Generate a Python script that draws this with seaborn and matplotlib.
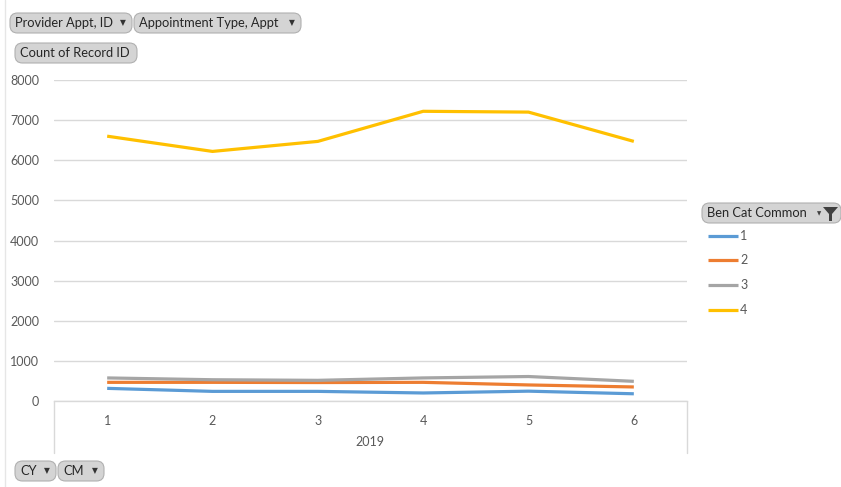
import matplotlib
matplotlib.use("Agg")
import matplotlib.pyplot as plt
from matplotlib.patches import FancyBboxPatch, Polygon
from matplotlib.lines import Line2D
import seaborn as sns
import pandas as pd

# Monthly record counts (2019) per benefit category
months = [1, 2, 3, 4, 5, 6]
cat_1 = [315, 240, 240, 200, 245, 180]
cat_2 = [465, 465, 460, 465, 400, 350]
cat_3 = [575, 530, 515, 575, 610, 490]
cat_4 = [6600, 6220, 6470, 7220, 7200, 6470]
categories = ["1", "2", "3", "4"]
y_ticks = [0, 1000, 2000, 3000, 4000, 5000, 6000, 7000, 8000]
year_label = "2019"

colors = {"1": "#5B9BD5", "2": "#ED7D31", "3": "#A5A5A5", "4": "#FFC000"}

df = pd.DataFrame({
    "CM": months * 4,
    "Count": cat_1 + cat_2 + cat_3 + cat_4,
    "Ben Cat Common": sum([[c] * len(months) for c in categories], []),
})

sns.set_theme(style="white")
plt.rcParams["font.family"] = ["Lato", "DejaVu Sans"]

W, H = 841, 487
fig = plt.figure(figsize=(W / 100, H / 100), dpi=100)


def fx(x):
    return x / W


def fy(y):
    return 1 - y / H


ax_l, ax_r, ax_t, ax_b = 54.5, 686.5, 80, 401
ax = fig.add_axes([fx(ax_l), fy(ax_b), fx(ax_r - ax_l), (ax_b - ax_t) / H])

sns.lineplot(data=df, x="CM", y="Count", hue="Ben Cat Common",
             palette=colors, linewidth=2.3, ax=ax, legend=False,
             sort=False)
for ln in ax.lines:
    ln.set_solid_capstyle("butt")

ax.set_xlim(0.5, 6.5)
ax.set_ylim(0, 8000)
ax.set_yticks(y_ticks)
ax.set_xticks(months)
ax.set_xticklabels([str(m) for m in months])
ax.set_xlabel("")
ax.set_ylabel("")
ax.grid(axis="y", color="#d9d9d9", linewidth=1)
ax.grid(axis="x", visible=False)
ax.set_axisbelow(True)
for side in ["top", "right", "left"]:
    ax.spines[side].set_visible(False)
ax.spines["bottom"].set_color("#d9d9d9")
ax.spines["bottom"].set_linewidth(1)
ax.tick_params(axis="both", length=0, labelsize=9, labelcolor="#595959")
ax.tick_params(axis="y", pad=11)
ax.tick_params(axis="x", pad=10)

# Multi-level category frame below the axis
drop = 52 / (ax_b - ax_t)
for xa in (0, 1):
    ax.add_line(Line2D([xa, xa], [0, -drop], transform=ax.transAxes,
                       color="#d9d9d9", linewidth=1, clip_on=False))
fig.text(fx(370), fy(442), year_label, ha="center", va="center",
         fontsize=9, color="#595959")

# Faint sheet edge on the left
fig.add_artist(Line2D([fx(5), fx(5)], [0, 1], color="#e6e6e6", linewidth=1))


def button(x0, y0, x1, y1, text, arrow=False):
    patch = FancyBboxPatch((fx(x0), fy(y1)), fx(x1 - x0), (y1 - y0) / H,
                           boxstyle="round,pad=0,rounding_size=0.009",
                           mutation_aspect=W / H,
                           transform=fig.transFigure, facecolor="#d4d4d4",
                           edgecolor="#b0b0b0", linewidth=0.8)
    fig.add_artist(patch)
    t = fig.text(fx(x0 + 5), fy((y0 + y1) / 2), text, ha="left", va="center",
                 fontsize=9.3, color="#262626")
    if arrow:
        fig.text(fx(x1 - 9), fy((y0 + y1) / 2 - 0.5), "\u25BC", ha="center",
                 va="center", fontsize=5.5, color="#333333",
                 family="DejaVu Sans")
    return t


button(10, 13, 132, 33, "Provider Appt, ID", arrow=True)
button(134, 13, 301, 33, "Appointment Type, Appt", arrow=True)
button(15, 43, 137, 63, "Count of Record ID")
button(15, 461, 56, 481, "CY", arrow=True)
button(58, 461, 104, 481, "CM", arrow=True)
button(702, 203, 841, 223, "Ben Cat Common")

# Filter icon on the legend button
funnel = Polygon([[fx(823), fy(207)], [fx(838), fy(207)], [fx(832), fy(214)],
                  [fx(832), fy(221)], [fx(829), fy(221)], [fx(829), fy(214)]],
                 closed=True, transform=fig.transFigure, facecolor="#404040",
                 edgecolor="none")
fig.add_artist(funnel)
fig.text(fx(819), fy(214), "\u25BC", ha="center", va="center", fontsize=4,
         color="#404040", family="DejaVu Sans")

# Legend entries
leg_y = [236, 260, 285, 310]
for cat, yy in zip(categories, leg_y):
    fig.add_artist(Line2D([fx(708), fx(738)], [fy(yy), fy(yy)],
                          color=colors[cat], linewidth=2.3,
                          solid_capstyle="butt"))
    fig.text(fx(740), fy(yy), cat, ha="left", va="center", fontsize=9,
             color="#595959")

fig.savefig("out.png", dpi=100)
